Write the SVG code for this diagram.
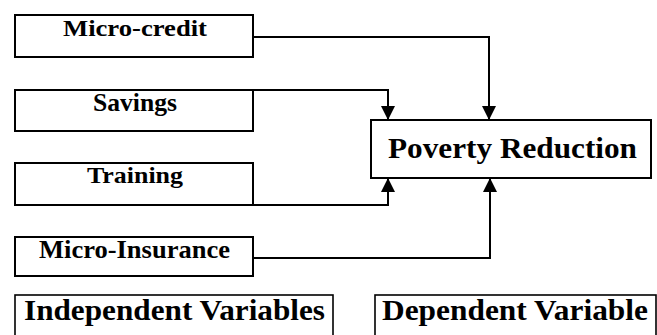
<svg xmlns="http://www.w3.org/2000/svg" width="657" height="335" viewBox="0 0 657 335">
<style>
.box{fill:#fff;stroke:#000;stroke-width:2}
.lbox{fill:#fff;stroke:#000;stroke-width:1.6}
.t{font-family:'Liberation Serif','DejaVu Serif',serif;font-weight:700;fill:#000}
.c{fill:none;stroke:#000;stroke-width:2}
</style>
<defs>
<marker id="ah" markerUnits="userSpaceOnUse" markerWidth="15" markerHeight="15" refX="14" refY="7" orient="auto">
<path d="M0,0 L14,7 L0,14 z" fill="#000"/>
</marker>
</defs>
<rect width="657" height="335" fill="#fff"/>
<g id="connectors">
<path class="c" d="M253,37 H489 V120" marker-end="url(#ah)"/>
<path class="c" d="M253,90 H388 V120" marker-end="url(#ah)"/>
<path class="c" d="M253,205 H388 V178" marker-end="url(#ah)"/>
<path class="c" d="M253,258 H490 V178" marker-end="url(#ah)"/>
</g>
<g id="micro-credit">
<rect class="box" x="15" y="15" width="238" height="42"/>
<text class="t" x="63" y="36" font-size="24" textLength="144" lengthAdjust="spacingAndGlyphs">Micro-credit</text>
</g>
<g id="savings">
<rect class="box" x="15" y="90" width="238" height="41"/>
<text class="t" x="93" y="111" font-size="25" textLength="84" lengthAdjust="spacingAndGlyphs">Savings</text>
</g>
<g id="training">
<rect class="box" x="15" y="163" width="238" height="42"/>
<text class="t" x="87" y="183" font-size="24" textLength="96" lengthAdjust="spacingAndGlyphs">Training</text>
</g>
<g id="micro-insurance">
<rect class="box" x="15" y="237" width="238" height="39"/>
<text class="t" x="39" y="258" font-size="25" textLength="191" lengthAdjust="spacingAndGlyphs">Micro-Insurance</text>
</g>
<g id="poverty-reduction">
<rect class="box" x="371" y="120" width="280" height="58"/>
<text class="t" x="388" y="158" font-size="29" textLength="249" lengthAdjust="spacingAndGlyphs">Poverty Reduction</text>
</g>
<g id="independent-variables">
<rect class="lbox" x="15" y="295" width="318" height="50"/>
<text class="t" x="24" y="320" font-size="29" textLength="301" lengthAdjust="spacingAndGlyphs">Independent Variables</text>
</g>
<g id="dependent-variable">
<rect class="lbox" x="375" y="295" width="281" height="50"/>
<text class="t" x="382" y="320" font-size="29" textLength="266" lengthAdjust="spacingAndGlyphs">Dependent Variable</text>
</g>
</svg>
